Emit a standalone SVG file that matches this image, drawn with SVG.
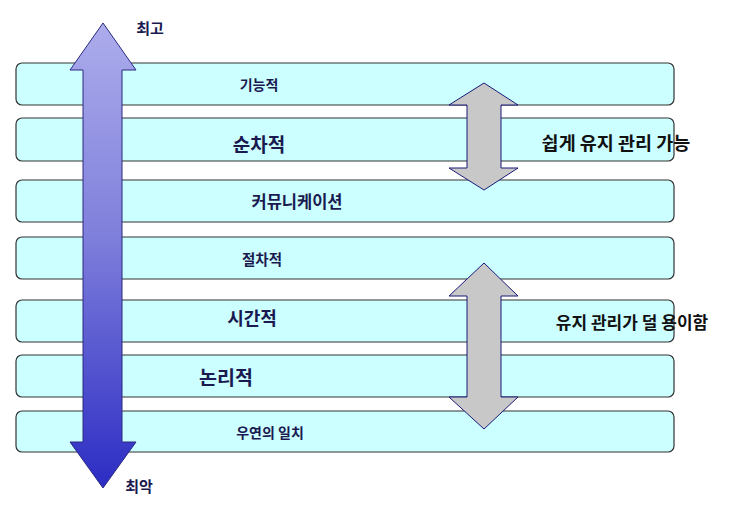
<svg xmlns="http://www.w3.org/2000/svg" width="732" height="507" viewBox="0 0 732 507">
<style>
.bar{fill:#ccffff;stroke:#333333;stroke-width:1.2}
.garrow{fill:#c8c8c8;stroke:#1a1a7a;stroke-width:1}
.t{font-family:"Noto Sans CJK KR","Noto Sans",sans-serif;font-weight:bold;fill:#1a1a50;text-anchor:middle}
.r{font-family:"Noto Sans CJK KR","Noto Sans",sans-serif;font-weight:bold;fill:#111111;text-anchor:middle}
</style>
<defs>
<linearGradient id="bg" x1="0" y1="0" x2="0" y2="1">
<stop offset="0" stop-color="#acacec"/>
<stop offset="0.45" stop-color="#8080dc"/>
<stop offset="1" stop-color="#2c2cc4"/>
</linearGradient>
</defs>
<rect width="732" height="507" fill="#ffffff"/>
<g id="bars">
<g id="bar1"><rect class="bar" x="16" y="63" width="658" height="42" rx="6"/><text class="t" x="259" y="90" font-size="14">기능적</text></g>
<g id="bar2"><rect class="bar" x="16" y="118" width="658" height="43" rx="6"/><text class="t" x="259" y="152" font-size="19">순차적</text></g>
<g id="bar3"><rect class="bar" x="16" y="180" width="658" height="42" rx="6"/><text class="t" x="297" y="208" font-size="16.5">커뮤니케이션</text></g>
<g id="bar4"><rect class="bar" x="16" y="237" width="658" height="42" rx="6"/><text class="t" x="262" y="265" font-size="14.5">절차적</text></g>
<g id="bar5"><rect class="bar" x="16" y="300" width="658" height="42" rx="6"/><text class="t" x="252" y="325" font-size="18">시간적</text></g>
<g id="bar6"><rect class="bar" x="16" y="355" width="658" height="42" rx="6"/><text class="t" x="226" y="385" font-size="19.5">논리적</text></g>
<g id="bar7"><rect class="bar" x="16" y="411" width="658" height="41" rx="6"/><text class="t" x="270" y="438" font-size="14">우연의 일치</text></g>
</g>
<g id="connectors">
<g id="scale-arrow">
<polygon points="103,23 136,70 122,70 122,442 136,442 103,488 70,442 83,442 83,70 70,70" fill="url(#bg)" stroke="#2a2a80" stroke-width="1"/>
</g>
<g id="easy-arrow">
<polygon class="garrow" points="484,83 518,105 501,105 501,168 518,168 484,190 449,168 467,168 467,105 449,105"/>
</g>
<g id="hard-arrow">
<polygon class="garrow" points="484,263 518,296 501,296 501,397 518,397 484,429 449,397 467,397 467,296 449,296"/>
</g>
</g>
<g id="labels">
<text class="t" x="150" y="34" font-size="15">최고</text>
<text class="t" x="139" y="492" font-size="15">최악</text>
<text class="r" x="616" y="150" font-size="18.5">쉽게 유지 관리 가능</text>
<text class="r" x="632" y="329" font-size="17">유지 관리가 덜 용이함</text>
</g>
</svg>
